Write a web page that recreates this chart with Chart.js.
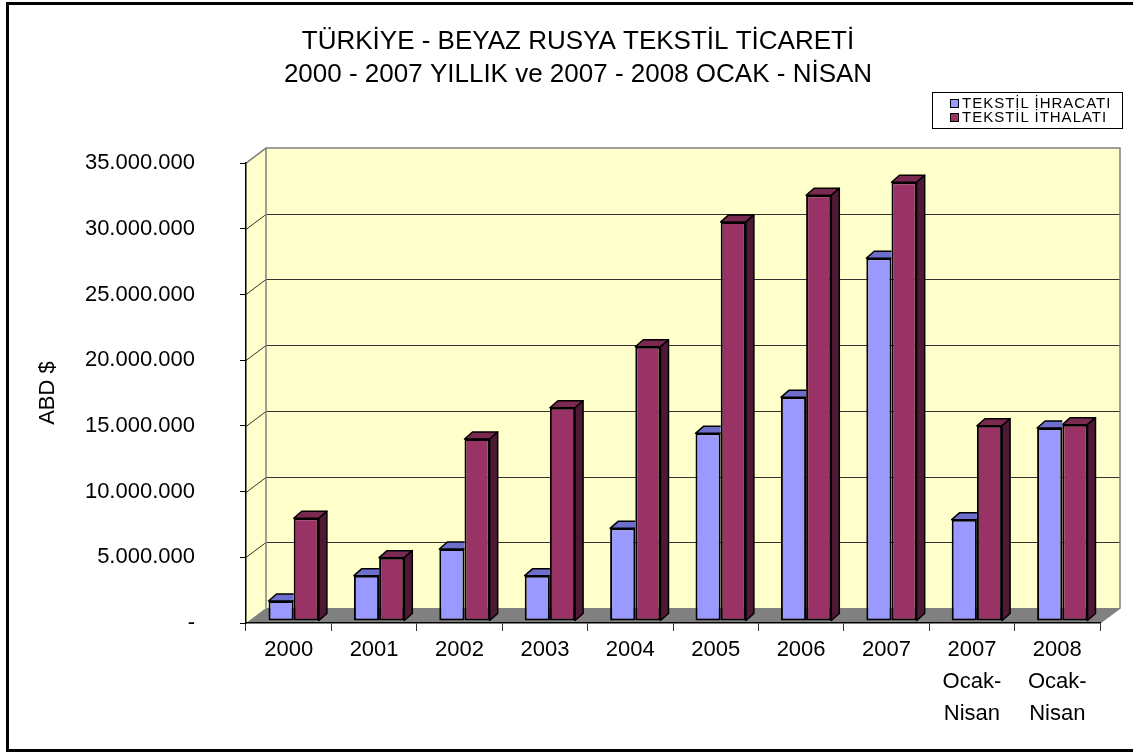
<!DOCTYPE html>
<html>
<head>
<meta charset="utf-8">
<script src="https://cdn.jsdelivr.net/npm/chart.js@4.4.1/dist/chart.umd.min.js"></script>
<style>
  body { margin: 0; background: #fff; overflow: hidden; font-family: 'Liberation Sans', Arial, sans-serif; }
  #wrap { position: relative; width: 1133px; height: 754px; }
  #frame { position: absolute; left: 6px; top: 2px; width: 1140px; height: 750px; border: 3px solid #000; box-sizing: border-box; pointer-events: none; }
  #legend { position: absolute; left: 932px; top: 92px; width: 191px; height: 37px; border: 1px solid #000; box-sizing: border-box; padding-top: 3px; font-size: 15px; line-height: 14px; letter-spacing: 1px; color: #000; }
  #legend .item { position: relative; height: 14px; padding-left: 29px; white-space: nowrap; }
  #legend .box { position: absolute; left: 17px; top: 3px; width: 7px; height: 7px; border: 1px solid #000; }
</style>
</head>
<body>
<div id="wrap">
  <canvas id="tradeChart" width="1133" height="754"></canvas>
  <div id="legend"></div>
  <div id="frame"></div>
</div>
<script>
const categories = ['2000', '2001', '2002', '2003', '2004', '2005', '2006', '2007', ['2007', 'Ocak-', 'Nisan'], ['2008', 'Ocak-', 'Nisan']]
const ihracat = [1520000, 3450000, 5480000, 3450000, 7050000, 14280000, 17020000, 27600000, 7710000, 14690000]
const ithalat = [7820000, 4820000, 13850000, 16230000, 20870000, 30370000, 32400000, 33390000, 14860000, 14940000]
const seriesNames = ['TEKSTİL İHRACATI', 'TEKSTİL İTHALATI']
const titleLines = ['TÜRKİYE - BEYAZ RUSYA TEKSTİL TİCARETİ', '2000 - 2007 YILLIK ve 2007 - 2008 OCAK - NİSAN']
const yTitle = 'ABD $'

const frontColors = ['#9999FF', '#993366']
const topColors = ['#6E6ECC', '#7A2951']
const sideColors = ['#5C5CA8', '#4D1933']

// 3d look: wall depth, bar depth, bar shift into the box
const wallDX = 20
const wallDY = -15
const barDX = 8
const barDY = -7
const shiftX = 5
const shiftY = -2

const formatTick = (v) => {
  if (v === 0) return '-'
  return String(v).replace(/\B(?=(\d{3})+(?!\d))/g, '.')
}

const poly = (ctx, pts) => {
  ctx.beginPath()
  ctx.moveTo(pts[0][0], pts[0][1])
  for (let i = 1; i < pts.length; i++) ctx.lineTo(pts[i][0], pts[i][1])
  ctx.closePath()
}

const wallsPlugin = {
  id: 'walls',
  beforeDraw (chart) {
    const { ctx, chartArea: a, scales } = chart
    const y = scales.y
    ctx.save()
    ctx.fillStyle = '#FFFFCC'
    poly(ctx, [[a.left, a.top], [a.left + wallDX, a.top + wallDY], [a.left + wallDX, a.bottom + wallDY], [a.left, a.bottom]])
    ctx.fill()
    ctx.fillRect(a.left + wallDX, a.top + wallDY, a.right - a.left, a.bottom - a.top)
    ctx.fillStyle = '#808080'
    poly(ctx, [[a.left, a.bottom], [a.left + wallDX, a.bottom + wallDY], [a.right + wallDX, a.bottom + wallDY], [a.right, a.bottom]])
    ctx.fill()

    ctx.lineWidth = 1
    ctx.strokeStyle = '#333'
    y.ticks.forEach((t) => {
      if (t.value === 0 || t.value === y.max) return
      const py = Math.round(y.getPixelForValue(t.value)) + 0.5
      ctx.beginPath()
      ctx.moveTo(a.left, py)
      ctx.lineTo(a.left + wallDX, py + wallDY)
      ctx.lineTo(a.right + wallDX, py + wallDY)
      ctx.stroke()
    })
    // wall outline
    ctx.strokeStyle = '#808080'
    ctx.lineWidth = 1.5
    ctx.beginPath()
    ctx.moveTo(a.left, a.top)
    ctx.lineTo(a.left + wallDX, a.top + wallDY)
    ctx.lineTo(a.right + wallDX, a.top + wallDY)
    ctx.lineTo(a.right + wallDX, a.bottom + wallDY)
    ctx.lineTo(a.right, a.bottom)
    ctx.moveTo(a.left + wallDX, a.top + wallDY)
    ctx.lineTo(a.left + wallDX, a.bottom + wallDY)
    ctx.stroke()
    ctx.restore()
  },
  beforeDatasetsDraw (chart) {
    chart.ctx.save()
    chart.ctx.translate(shiftX, shiftY)
  },
  afterDatasetDraw (chart, args) {
    const { ctx } = chart
    const i = args.index
    ctx.save()
    ctx.lineWidth = 1.5
    ctx.strokeStyle = '#000'
    ctx.lineJoin = 'round'
    args.meta.data.forEach((bar) => {
      const { x, y, base, width } = bar.getProps(['x', 'y', 'base', 'width'], true)
      const l = x - width / 2
      const r = x + width / 2
      ctx.save()
      if (i === 0) {
        ctx.beginPath()
        ctx.rect(l - 2, y - 20, r - l + 2, 30)
        ctx.clip()
      }
      ctx.fillStyle = topColors[i]
      poly(ctx, [[l, y], [l + barDX, y + barDY], [r + barDX, y + barDY], [r, y]])
      ctx.fill()
      ctx.stroke()
      if (i === 1) {
        ctx.fillStyle = sideColors[i]
        poly(ctx, [[r, y], [r + barDX, y + barDY], [r + barDX, base + barDY], [r, base]])
        ctx.fill()
        ctx.stroke()
      }
      ctx.restore()
    })
    ctx.restore()
  },
  afterDatasetsDraw (chart) {
    chart.ctx.restore()
  }
}

const ctx = document.getElementById('tradeChart').getContext('2d')
const chart = new Chart(ctx, {
  type: 'bar',
  data: {
    labels: categories,
    datasets: [
      {
        label: seriesNames[0],
        data: ihracat,
        backgroundColor: frontColors[0],
        borderColor: '#000',
        borderWidth: 2,
        borderSkipped: false,
        categoryPercentage: 0.59,
        barPercentage: 1,
        clip: false
      },
      {
        label: seriesNames[1],
        data: ithalat,
        backgroundColor: frontColors[1],
        borderColor: '#000',
        borderWidth: 2,
        borderSkipped: false,
        categoryPercentage: 0.59,
        barPercentage: 1,
        clip: false
      }
    ]
  },
  options: {
    responsive: false,
    animation: false,
    layout: { padding: { left: 56, right: 33, top: 0, bottom: 0 } },
    scales: {
      x: {
        grid: { drawOnChartArea: false, drawTicks: true, tickLength: 8, tickColor: '#333', offset: true },
        border: { display: true, color: '#000', width: 1.5 },
        ticks: {
          color: '#000',
          padding: 3,
          maxRotation: 0,
          autoSkip: false,
          font: { family: "'Liberation Sans', Arial, sans-serif", size: 22, lineHeight: 1.45 }
        },
        afterFit: (scale) => { scale.height = 131 }
      },
      y: {
        min: 0,
        max: 35000000,
        grid: { drawOnChartArea: false, drawTicks: true, tickLength: 6, tickColor: '#000' },
        border: { display: true, color: '#000', width: 1.5 },
        ticks: {
          stepSize: 5000000,
          color: '#000',
          padding: 45,
          callback: (v) => formatTick(v),
          font: { family: "'Liberation Sans', Arial, sans-serif", size: 22 }
        },
        title: {
          display: true,
          text: yTitle,
          color: '#000',
          padding: { top: -21, bottom: 0 },
          font: { family: "'Liberation Sans', Arial, sans-serif", size: 22 }
        },
        afterFit: (scale) => { scale.width = 190 }
      }
    },
    plugins: {
      legend: { display: false },
      tooltip: { enabled: false },
      title: {
        display: true,
        text: titleLines,
        color: '#000',
        padding: { top: 25, bottom: 72 },
        font: { family: "'Liberation Sans', Arial, sans-serif", size: 26, weight: 'normal', lineHeight: 1.27 }
      }
    }
  },
  plugins: [wallsPlugin]
})

// legend box
const legendEl = document.getElementById('legend')
chart.data.datasets.forEach((ds) => {
  const row = document.createElement('div')
  row.className = 'item'
  const box = document.createElement('span')
  box.className = 'box'
  box.style.background = ds.backgroundColor
  row.appendChild(box)
  row.appendChild(document.createTextNode(ds.label))
  legendEl.appendChild(row)
})
</script>
</body>
</html>
